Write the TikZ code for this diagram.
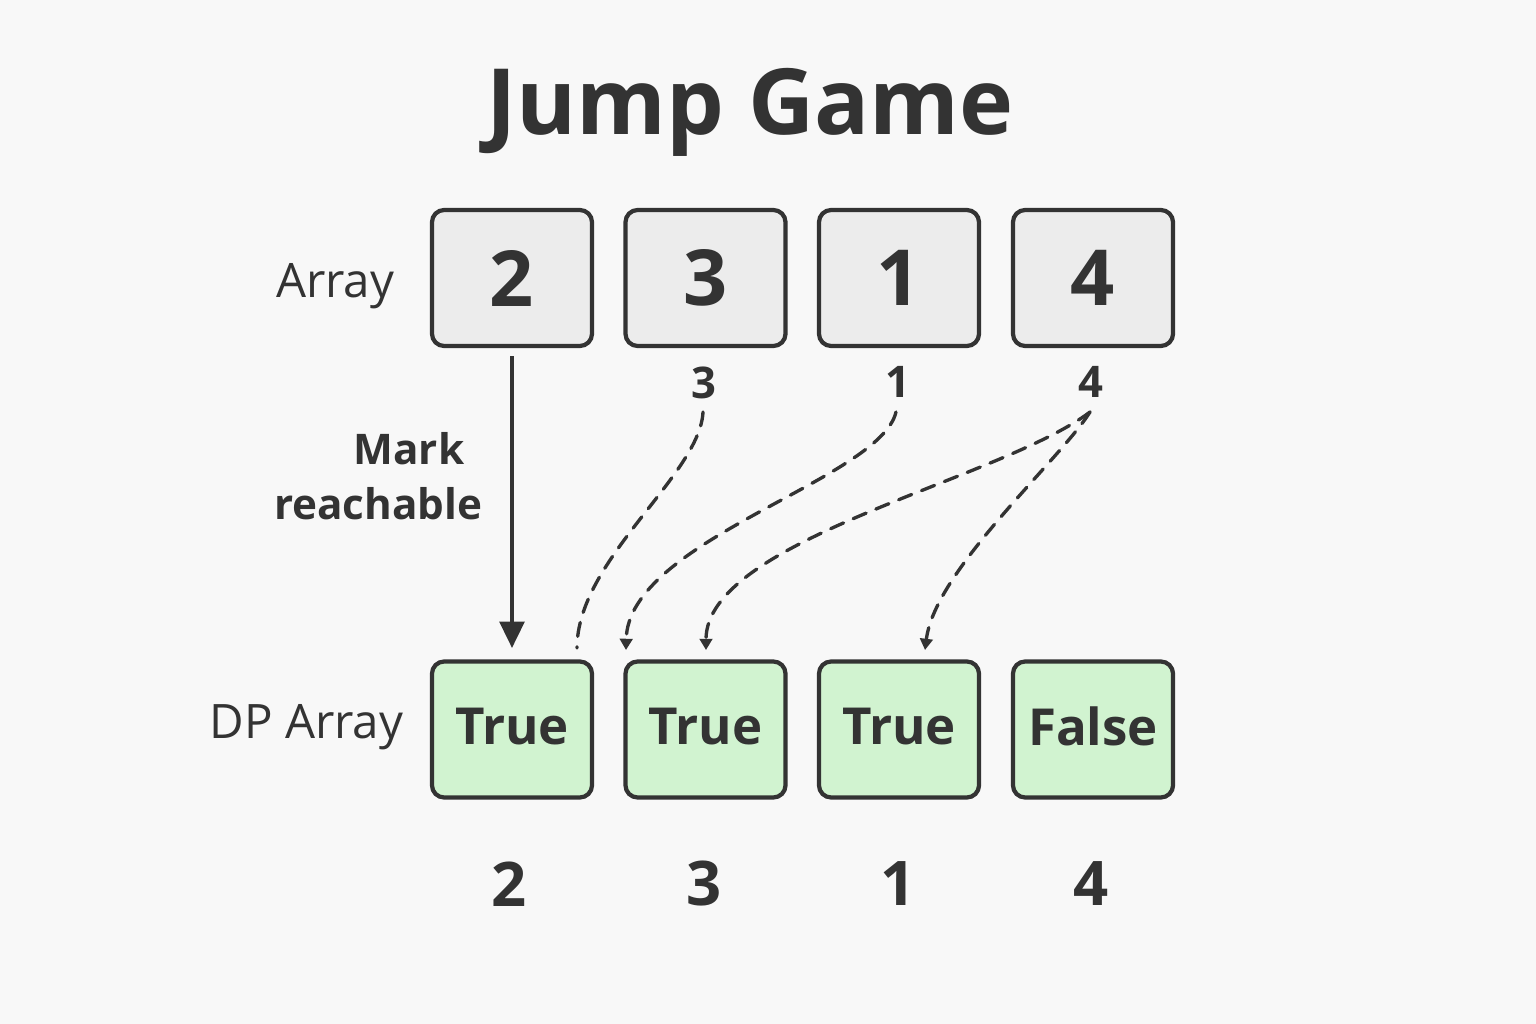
\documentclass[tikz,border=0pt]{standalone}
\usepackage{fontspec}
\setmainfont{Open Sans}
\usetikzlibrary{arrows.meta,calc}
\definecolor{ink}{HTML}{333333}
\definecolor{bg}{HTML}{F8F8F8}
\definecolor{cellgray}{HTML}{ECECEC}
\definecolor{cellgreen}{HTML}{D1F3D0}
\tikzset{
  cell/.style={draw=ink, line width=1.2pt, rounded corners=3.5pt, minimum width=1.6cm, minimum height=1.36cm, inner sep=0pt, text=ink},
  arrcell/.style={cell, fill=cellgray, font=\fontsize{22}{24}\selectfont\bfseries},
  dpcell/.style={cell, fill=cellgreen, font=\fontsize{14.5}{16}\selectfont\bfseries},
  rowlabel/.style={anchor=east, text=ink, font=\fontsize{13.5}{16}\selectfont, inner sep=0pt},
  jumpnum/.style={text=ink, font=\fontsize{12.4}{14}\selectfont\bfseries, inner sep=0pt},
  idxnum/.style={text=ink, font=\fontsize{17.5}{19}\selectfont\bfseries, inner sep=0pt},
  jumplink/.style={draw=ink, line width=0.95pt, dashed, dash pattern=on 4pt off 3pt, line cap=round},
  smalltip/.style={-{Triangle[width=3.6pt,length=3.2pt]}},
}
\begin{document}
\begin{tikzpicture}[x=0.01cm,y=-0.01cm]
\fill[bg] (0,0) rectangle (1536,1024);
\useasboundingbox (0,0) rectangle (1536,1024);

\node[text=ink, font=\fontsize{26}{28}\selectfont\bfseries] (title) at (750,112) {Jump Game};

\node[rowlabel] (lblA) at (395,286) {Array};
\node[rowlabel] (lblDP) at (404,727) {DP Array};

\node[arrcell] (a1) at (512,278) {2};
\node[arrcell] (a2) at (705.5,278) {3};
\node[arrcell] (a3) at (899,278) {1};
\node[arrcell] (a4) at (1093,278) {4};

\node[dpcell] (d1) at (512,729.5) {\raisebox{2pt}{True}};
\node[dpcell] (d2) at (705.5,729.5) {\raisebox{2pt}{True}};
\node[dpcell] (d3) at (899,729.5) {\raisebox{2pt}{True}};
\node[dpcell] (d4) at (1093,729.5) {\raisebox{2pt}{False}};

\node[jumpnum] (j2) at (704,383) {3};
\node[jumpnum] (j3) at (898,382) {1};
\node[jumpnum] (j4) at (1091,382) {4};

\node[idxnum] (i1) at (509,884) {2};
\node[idxnum] (i2) at (704,884) {3};
\node[idxnum] (i3) at (898,884) {1};
\node[idxnum] (i4) at (1091,884) {4};

\node[text=ink, align=right, font=\fontsize{12}{15.6}\selectfont\bfseries, anchor=east, inner sep=0pt] (mark) at (483,476) {Mark\kern0.18cm\\reachable};

% solid arrow
\draw[draw=ink, line width=1.1pt, -{Triangle[width=7pt,length=7.5pt]}] (a1.south) ++(0,8) -- (512,648);

% dashed jump links
\coordinate (s2) at (703,412);
\coordinate (s3) at (896,412);
\coordinate (s4) at (1090,412);
\coordinate (e1) at (577,648);
\coordinate (e2) at (626,650);
\coordinate (e3) at (706,650);
\coordinate (e4) at (925,650);

\draw[jumplink] (s2) .. controls (700,475) and (577,560) .. (e1);
\draw[jumplink, smalltip] (s3) .. controls (880,480) and (628,540) .. (e2);
\draw[jumplink, smalltip] (s4) .. controls (1000,480) and (706,540) .. (e3);
\draw[jumplink, smalltip] (s4) .. controls (1060,460) and (935,570) .. (e4);
\end{tikzpicture}
\end{document}
